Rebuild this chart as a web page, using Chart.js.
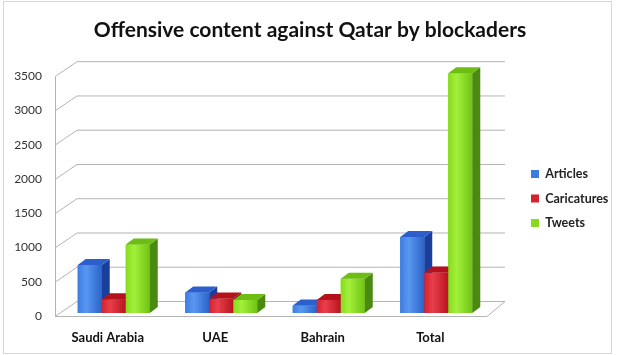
<!DOCTYPE html>
<html>
<head>
<meta charset="utf-8">
<script src="https://cdn.jsdelivr.net/npm/chart.js@4/dist/chart.umd.min.js"></script>
<style>
  html, body { margin: 0; padding: 0; background: #fff; }
  #wrap { position: relative; width: 620px; height: 355px; }
  #frame { position: absolute; left: 3px; top: 1px; width: 607px; height: 351px; border: 1px solid #d6d6d6; pointer-events: none; }
  canvas { display: block; }
</style>
</head>
<body>
<div id="wrap">
  <canvas id="c" width="620" height="355"></canvas>
  <div id="frame"></div>
</div>
<script>
const categories = ['Saudi Arabia', 'UAE', 'Bahrain', 'Total'];
const articles = [700, 300, 110, 1110];
const caricatures = [200, 210, 190, 590];
const tweets = [1000, 190, 500, 3500];
const yTicks = [0, 500, 1000, 1500, 2000, 2500, 3000, 3500];

const palette = [
  { front: '#3b7ddf', light: '#5a97f2', dark: '#2a64c8', top: '#2d5fcc', side: '#1a3e9c' },
  { front: '#d42230', light: '#e8404a', dark: '#b8131f', top: '#b3121d', side: '#850d16' },
  { front: '#86dc1c', light: '#a2ef3c', dark: '#6fc412', top: '#6dbd14', side: '#4a8a10' }
];

const DX = 8, DY = 6;

const walls = {
  id: 'walls',
  beforeDatasetsDraw(chart) {
    const { ctx, chartArea: a, scales: { y } } = chart;
    ctx.save();
    ctx.strokeStyle = '#b4b4b4';
    ctx.lineWidth = 1;
    const fl = a.left - 5, bl = a.left + 17, br = a.right + 15, fr = a.right - 3;
    ctx.beginPath();
    ctx.moveTo(fl + 0.5, y.getPixelForValue(yTicks[yTicks.length - 1]) + 3);
    ctx.lineTo(fl + 0.5, y.getPixelForValue(0) + 3);
    ctx.stroke();
    yTicks.forEach(v => {
      const py = y.getPixelForValue(v);
      ctx.beginPath();
      ctx.moveTo(fl, py + 3.5);
      ctx.lineTo(bl, py - 11.5);
      ctx.lineTo(br, py - 11.5);
      if (v === 0) {
        ctx.lineTo(fr, py + 3.5);
        ctx.closePath();
      }
      ctx.stroke();
    });
    ctx.restore();
  },
  afterDatasetsDraw(chart) {
    const { ctx } = chart;
    const n = chart.data.labels.length;
    ctx.save();
    for (let i = 0; i < n; i++) {
      chart.data.datasets.forEach((ds, d) => {
        const meta = chart.getDatasetMeta(d);
        const el = meta.data[i];
        if (!el) return;
        const p = palette[d];
        const l = el.x - el.width / 2, r = el.x + el.width / 2, t = el.y, b = el.base;
        const g = ctx.createLinearGradient(l, 0, r, 0);
        g.addColorStop(0, p.front);
        g.addColorStop(0.35, p.light);
        g.addColorStop(1, p.dark);
        ctx.fillStyle = g;
        ctx.fillRect(l, t, r - l, b - t);
        ctx.fillStyle = p.side;
        ctx.beginPath();
        ctx.moveTo(r, b); ctx.lineTo(r + DX, b - DY); ctx.lineTo(r + DX, t - DY); ctx.lineTo(r, t);
        ctx.closePath(); ctx.fill();
        ctx.fillStyle = p.top;
        ctx.beginPath();
        ctx.moveTo(l, t); ctx.lineTo(l + DX, t - DY); ctx.lineTo(r + DX, t - DY); ctx.lineTo(r, t);
        ctx.closePath(); ctx.fill();
      });
    }
    ctx.restore();
  }
};

const fixLegend = {
  id: 'fixLegend',
  afterInit(chart) {
    const lg = chart.legend;
    if (!lg) return;
    const f = lg.fit.bind(lg);
    lg.fit = function () { f(); this.width = 101; };
  }
};

new Chart(document.getElementById('c'), {
  type: 'bar',
  data: {
    labels: categories,
    datasets: [
      { label: 'Articles', data: articles, backgroundColor: palette[0].front },
      { label: 'Caricatures', data: caricatures, backgroundColor: palette[1].front },
      { label: 'Tweets', data: tweets, backgroundColor: palette[2].front }
    ]
  },
  options: {
    responsive: false,
    animation: false,
    events: [],
    layout: { padding: { left: 0, right: 0, top: 0, bottom: 0 } },
    datasets: { bar: { categoryPercentage: 0.67, barPercentage: 1.0 } },
    scales: {
      x: {
        grid: { display: false, drawTicks: false },
        border: { display: false },
        ticks: { color: '#111', font: { family: 'Lato', size: 13, weight: 'bold' }, padding: 17, labelOffset: -6 },
        afterFit(s) { s.height = 42; }
      },
      y: {
        min: 0, max: 3500,
        afterBuildTicks(s) { s.ticks = yTicks.map(v => ({ value: v })); },
        grid: { display: false, drawTicks: false },
        border: { display: false },
        ticks: { color: '#333', font: { family: 'Lato', size: 12 }, padding: 18, labelOffset: 3,
                 callback: v => String(v) },
        afterFit(s) { s.width = 60; }
      },
      yR: {
        position: 'right',
        grid: { display: false, drawTicks: false },
        border: { display: false },
        ticks: { display: false },
        afterFit(s) { s.width = 29; }
      }
    },
    plugins: {
      title: {
        display: true,
        text: 'Offensive content against Qatar by blockaders',
        color: '#111',
        font: { family: 'Lato', size: 21, weight: 'bold', lineHeight: 1.2 },
        padding: { top: 18, bottom: 30 }
      },
      legend: {
        position: 'right',
        fullSize: false,
        title: { display: true, text: ' ', font: { size: 1, lineHeight: 1 }, padding: { top: 5, bottom: 5 } },
        labels: {
          color: '#222',
          font: { family: 'Lato', size: 12.5, weight: 'bold' },
          boxWidth: 8, boxHeight: 8, padding: 12
        }
      },
      tooltip: { enabled: false }
    }
  },
  plugins: [walls, fixLegend]
});
</script>
</body>
</html>
